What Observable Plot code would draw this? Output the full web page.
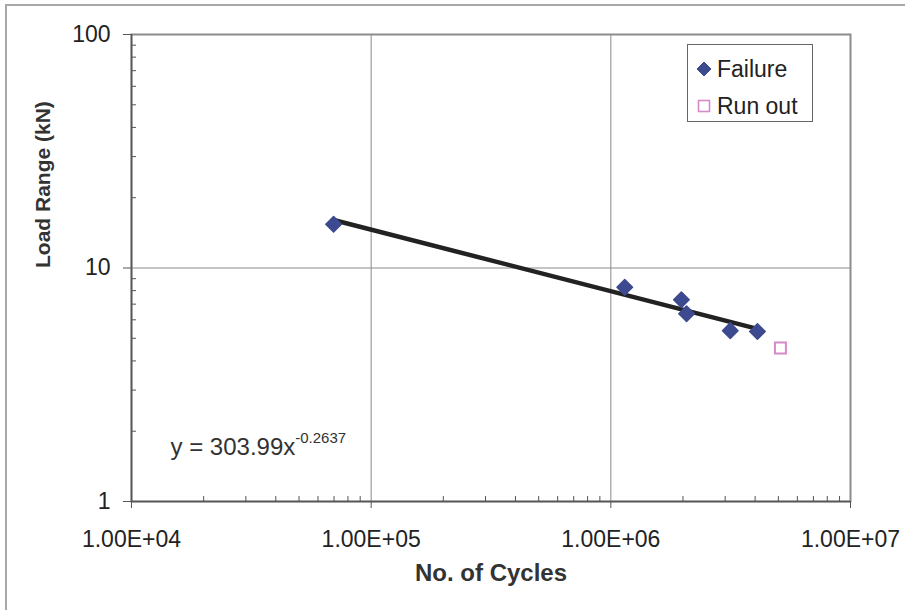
<!DOCTYPE html>
<html>
<head>
<meta charset="utf-8">
<script src="https://cdn.jsdelivr.net/npm/d3@7"></script>
<script src="https://cdn.jsdelivr.net/npm/@observablehq/plot@0.6"></script>
<style>
  html, body { margin: 0; padding: 0; background: #fff; }
  #wrap { position: relative; width: 905px; height: 610px; overflow: hidden; background: #fff; }
  #wrap::before {
    content: ""; position: absolute; left: 5px; top: 4px; right: -4px; bottom: -4px;
    border-left: 2px solid #a8a8a8; border-top: 2px solid #a8a8a8; pointer-events: none;
  }
  #chart svg { display: block; font-family: "Liberation Sans", Arial, sans-serif; }
  #legend {
    position: absolute; left: 687px; top: 44px; width: 124px; height: 76px;
    border: 1px solid #666; background: #fff;
    font: 23px "Liberation Sans", Arial, sans-serif; color: #222;
  }
  #legend .row { position: absolute; left: 8px; height: 26px; display: flex; align-items: center; }
  #legend svg { display: block; margin-right: 5px; }
</style>
</head>
<body>
<div id="wrap">
  <div id="chart"></div>
  <div id="legend"></div>
</div>
<script>
// Fatigue test results: load range against number of cycles
const failureCycles = [69700, 1143000, 1970000, 2070000, 3150000, 4090000];
const failureLoad   = [15.4, 8.27, 7.31, 6.37, 5.39, 5.35];
const runoutCycles  = [5100000];
const runoutLoad    = [4.54];

// Power-law fit  y = a * x^b
const trendCoef = 303.99;
const trendExp  = -0.2637;

const xTicks = [1e4, 1e5, 1e6, 1e7];
const xTickLabels = ["1.00E+04", "1.00E+05", "1.00E+06", "1.00E+07"];
const yTicks = [1, 10, 100];
const yTickLabels = ["1", "10", "100"];
const minorSteps = [2, 3, 4, 5, 6, 7, 8, 9];

const xTitle = "No. of Cycles";
const yTitle = "Load Range (kN)";
const legendLabels = ["Failure", "Run out"];

const failColor = "#3d4a8f";
const runColor = "#d78ac8";

const W = 905, H = 610, mL = 131, mR = 55, mT = 34, mB = 109;
const plotW = W - mL - mR, plotH = H - mT - mB;

const failures = failureCycles.map((c, i) => ({cycles: c, load: failureLoad[i]}));
const runouts = runoutCycles.map((c, i) => ({cycles: c, load: runoutLoad[i]}));

// trend line over the range of failures
const xMin = d3.min(failureCycles), xMax = d3.max(failureCycles);
const trend = [xMin, xMax].map(c => ({cycles: c, load: trendCoef * Math.pow(c, trendExp)}));

const xMinor = xTicks.slice(0, -1).flatMap(d => minorSteps.map(k => d * k));
const yMinor = yTicks.slice(0, -1).flatMap(d => minorSteps.map(k => d * k));

const eqMain = `y = ${trendCoef}x`;
const eqSup = `${trendExp}`;

const chart = Plot.plot({
  width: W, height: H,
  marginLeft: mL, marginRight: mR, marginTop: mT, marginBottom: mB,
  style: {background: "transparent", color: "#222"},
  x: {type: "log", domain: [xTicks[0], xTicks[xTicks.length - 1]]},
  y: {type: "log", domain: [yTicks[0], yTicks[yTicks.length - 1]]},
  marks: [
    // major grid
    Plot.ruleX(xTicks.slice(1, -1), {stroke: "#8a8a8a", strokeWidth: 1}),
    Plot.ruleY(yTicks.slice(1, -1), {stroke: "#8a8a8a", strokeWidth: 1}),
    // plot border (top / right)
    Plot.frame({stroke: "#8c8c8c", strokeWidth: 2}),
    // minor ticks on the inside of the axes
    Plot.tickX(xMinor, {x: d => d, insetTop: plotH - 5, stroke: "#555"}),
    Plot.tickY(yMinor, {y: d => d, insetRight: plotW - 5, stroke: "#555"}),
    // axis lines
    Plot.ruleX([xTicks[0]], {stroke: "#555", strokeWidth: 1.5}),
    Plot.ruleY([yTicks[0]], {stroke: "#555", strokeWidth: 1.5}),
    Plot.axisX({
      ticks: xTicks, tickSize: 7, tickPadding: 22, fontSize: 23,
      tickFormat: d => xTickLabels[xTicks.indexOf(d)], label: null, stroke: "#555"
    }),
    Plot.axisY({
      ticks: yTicks, tickSize: 8, tickPadding: 13, fontSize: 23,
      tickFormat: d => yTickLabels[yTicks.indexOf(d)], label: null, stroke: "#555"
    }),
    // axis titles
    Plot.text([xTitle], {frameAnchor: "bottom", dy: 79, text: d => d, fontSize: 24, fontWeight: "bold", fill: "#333"}),
    Plot.text([yTitle], {frameAnchor: "left", dx: -88, rotate: -90, text: d => d, fontSize: 21, fontWeight: "bold", fill: "#333"}),
    // fitted power law
    Plot.line(trend, {x: "cycles", y: "load", stroke: "#222", strokeWidth: 4.5, strokeLinecap: "round"}),
    // data
    Plot.dot(failures, {x: "cycles", y: "load", symbol: "diamond2", r: 7, fill: failColor, stroke: failColor, strokeWidth: 1.5, strokeLinejoin: "round"}),
    Plot.dot(runouts, {x: "cycles", y: "load", symbol: "square", r: 6.2, fill: "none", stroke: runColor, strokeWidth: 2}),
    // equation of the fit
    Plot.text([eqMain], {frameAnchor: "bottom-left", dx: 39, dy: -47, text: d => d, textAnchor: "start", fontSize: 24, fill: "#333"})
  ]
});
document.getElementById("chart").appendChild(chart);

// exponent as superscript
d3.select(chart).selectAll("text").filter(function () { return this.textContent === eqMain; })
  .append("tspan").attr("font-size", 15).attr("dy", -12).attr("dx", 0).text(eqSup);

// legend
const legend = d3.select("#legend");
const rows = [
  {label: legendLabels[0], draw: s => s.append("path").attr("d", "M8,1 L15,8 L8,15 L1,8 Z").attr("fill", failColor).attr("stroke", failColor).attr("stroke-linejoin", "round")},
  {label: legendLabels[1], draw: s => s.append("rect").attr("x", 2.5).attr("y", 2.5).attr("width", 11).attr("height", 11).attr("fill", "none").attr("stroke", runColor).attr("stroke-width", 1.6)}
];
rows.forEach((r, i) => {
  const row = legend.append("div").attr("class", "row").style("top", `${11 + i * 37}px`);
  r.draw(row.append("svg").attr("width", 16).attr("height", 16));
  row.append("span").text(r.label);
});
</script>
</body>
</html>
